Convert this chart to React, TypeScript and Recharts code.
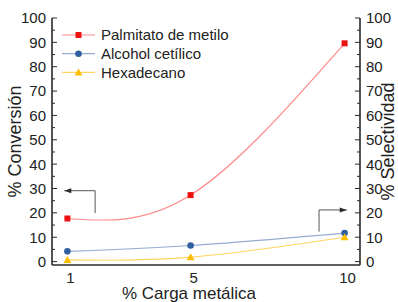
import React from "react"
import { LineChart, Line, XAxis, YAxis, Legend, ReferenceLine, Label } from "recharts"

const cargas = [1, 5, 10]
const palmitato = [17.7, 27.3, 89.6]
const alcohol = [4.2, 6.6, 11.7]
const hexadecano = [0.7, 1.8, 10]
const yTicks = [0, 5, 10, 15, 20, 25, 30, 35, 40, 45, 50, 55, 60, 65, 70, 75, 80, 85, 90, 95, 100]
const xTicks = [1, 5, 10]

const data = cargas.map((c, i) => ({
  carga: c,
  palmitato: palmitato[i],
  alcohol: alcohol[i],
  hexadecano: hexadecano[i],
}))

const FONT = "'Liberation Sans', Arial, sans-serif"
const AXIS = "#2a2a2a"

// conversion on the left axis, selectivities on the right one
const series = [
  { key: "palmitato", name: "Palmitato de metilo", line: "#ff8a8a", mark: "#ee1111", shape: "square", axis: "left" },
  { key: "alcohol", name: "Alcohol cetílico", line: "#93acd0", mark: "#2f5f9e", shape: "circle", axis: "right" },
  { key: "hexadecano", name: "Hexadecano", line: "#ffd560", mark: "#ffbf00", shape: "triangle", axis: "right" },
]

function Marker({ cx, cy, shape, color }: any) {
  if (cx == null || cy == null) return null
  if (shape === "square") return <rect x={cx - 3} y={cy - 3} width={6} height={6} fill={color} />
  if (shape === "circle") return <circle cx={cx} cy={cy} r={3.3} fill={color} />
  return <polygon points={`${cx},${cy - 4} ${cx - 4},${cy + 3} ${cx + 4},${cy + 3}`} fill={color} />
}

// y ticks: labels on the tens, short inward ticks on the fives
function LeftTick({ x, y, payload }: any) {
  const v = payload.value
  const ax = x + 8
  const major = v % 10 === 0
  return (
    <g>
      <line x1={ax} x2={ax + (major ? 5 : 3)} y1={y} y2={y} stroke={AXIS} strokeWidth={1} />
      {major && (
        <text x={ax - 6} y={y} dy="0.36em" textAnchor="end" fontSize={15} fontFamily={FONT} fill="#222">
          {v}
        </text>
      )}
    </g>
  )
}

function RightTick({ x, y, payload }: any) {
  const v = payload.value
  const ax = x - 8
  const major = v % 10 === 0
  return (
    <g>
      <line x1={ax} x2={ax - (major ? 5 : 3)} y1={y} y2={y} stroke={AXIS} strokeWidth={1} />
      {major && (
        <text x={ax + 6} y={y} dy="0.36em" textAnchor="start" fontSize={15} fontFamily={FONT} fill="#222">
          {v}
        </text>
      )}
    </g>
  )
}

function BottomTick({ x, y, payload }: any) {
  return (
    <text x={x + 3} y={y - 1} dy="0.71em" textAnchor="middle" fontSize={15} fontFamily={FONT} fill="#222">
      {payload.value}
    </text>
  )
}

function arrowShape(dir: "left" | "right" | "none") {
  return (p: any) => {
    const { x1, y1, x2, y2 } = p
    let head = null
    if (dir === "left") {
      const tx = Math.min(x1, x2)
      head = <polygon points={`${tx},${y1} ${tx + 7},${y1 - 2.5} ${tx + 7},${y1 + 2.5}`} fill={AXIS} />
    } else if (dir === "right") {
      const tx = Math.max(x1, x2)
      head = <polygon points={`${tx},${y1} ${tx - 7},${y1 - 2.5} ${tx - 7},${y1 + 2.5}`} fill={AXIS} />
    }
    return (
      <g>
        <line x1={x1} y1={y1} x2={x2} y2={y2} stroke="#555" strokeWidth={1} />
        {head}
      </g>
    )
  }
}

function LegendBox() {
  return (
    <svg width={200} height={60} style={{ overflow: "visible" }}>
      {series.map((s, i) => {
        const y = 10 + i * 18.7
        return (
          <g key={s.key}>
            <line x1={0} x2={33} y1={y} y2={y} stroke={s.line} strokeWidth={1.2} />
            <Marker cx={16.5} cy={y} shape={s.shape} color={s.mark} />
            <text x={39} y={y} dy="0.36em" fontSize={15} fontFamily={FONT} fill="#222">
              {s.name}
            </text>
          </g>
        )
      })}
    </svg>
  )
}

export default function App() {
  return (
    <div style={{ position: "absolute", left: 0, top: 0, background: "#fff" }}>
      <LineChart width={398} height={302} data={data} margin={{ top: 18, right: 8, left: 12, bottom: 0 }}>
        <XAxis
          dataKey="carga"
          type="number"
          domain={[0.5, 10.5]}
          ticks={xTicks}
          height={37}
          axisLine={{ stroke: AXIS, strokeWidth: 1.6 }}
          tickLine={false}
          tick={<BottomTick />}
        >
          <Label
            content={(p: any) => {
              const vb = p.viewBox
              return (
                <text x={vb.x + 137} y={vb.y + 28} dy="0.36em" textAnchor="middle" fontSize={17} fontFamily={FONT} fill="#222">
                  % Carga metálica
                </text>
              )
            }}
          />
        </XAxis>
        <XAxis xAxisId="top" orientation="top" type="number" domain={[0.5, 10.5]} height={0} tick={false} tickLine={false} axisLine={{ stroke: AXIS, strokeWidth: 1.6 }} />
        <YAxis
          yAxisId="left"
          type="number"
          domain={[-1.4, 100]}
          ticks={yTicks}
          interval={0}
          width={40}
          axisLine={{ stroke: AXIS, strokeWidth: 1.6 }}
          tickLine={false}
          tick={<LeftTick />}
        >
          <Label
            content={(p: any) => {
              const vb = p.viewBox
              const cx = vb.x + 3
              const cy = vb.y + vb.height / 2
              return (
                <text x={cx} y={cy} dy="0.36em" textAnchor="middle" transform={`rotate(-90 ${cx} ${cy})`} fontSize={18} fontFamily={FONT} fill="#222">
                  % Conversión
                </text>
              )
            }}
          />
        </YAxis>
        <YAxis
          yAxisId="right"
          orientation="right"
          type="number"
          domain={[-1.4, 100]}
          ticks={yTicks}
          interval={0}
          width={30}
          axisLine={{ stroke: AXIS, strokeWidth: 1.6 }}
          tickLine={false}
          tick={<RightTick />}
        >
          <Label
            content={(p: any) => {
              const vb = p.viewBox
              const cx = vb.x + 28
              const cy = vb.y + vb.height / 2
              return (
                <text x={cx} y={cy} dy="0.36em" textAnchor="middle" transform={`rotate(-90 ${cx} ${cy})`} fontSize={18} fontFamily={FONT} fill="#222">
                  % Selectividad
                </text>
              )
            }}
          />
        </YAxis>
        <Legend
          layout="horizontal"
          verticalAlign="middle"
          align="center"
          content={() => <LegendBox />}
          wrapperStyle={{ position: "absolute", left: 62, top: 25, width: 220, height: 60 }}
        />
        {/* arrows pointing to the axis each family belongs to */}
        <ReferenceLine yAxisId="left" segment={[{ x: 1.9, y: 29.1 }, { x: 0.9, y: 29.1 }]} shape={arrowShape("left")} />
        <ReferenceLine yAxisId="left" segment={[{ x: 1.9, y: 29.1 }, { x: 1.9, y: 19.9 }]} shape={arrowShape("none")} />
        <ReferenceLine yAxisId="left" segment={[{ x: 9.17, y: 21.2 }, { x: 10.07, y: 21.2 }]} shape={arrowShape("right")} />
        <ReferenceLine yAxisId="left" segment={[{ x: 9.17, y: 21.2 }, { x: 9.17, y: 12.3 }]} shape={arrowShape("none")} />
        {series.map((s) => (
          <Line
            key={s.key}
            yAxisId={s.axis}
            type="natural"
            dataKey={s.key}
            name={s.name}
            stroke={s.line}
            strokeWidth={1.2}
            dot={(p: any) => <Marker key={`${s.key}-${p.index}`} cx={p.cx} cy={p.cy} shape={s.shape} color={s.mark} />}
            activeDot={false}
            isAnimationActive={false}
          />
        ))}
      </LineChart>
    </div>
  )
}
